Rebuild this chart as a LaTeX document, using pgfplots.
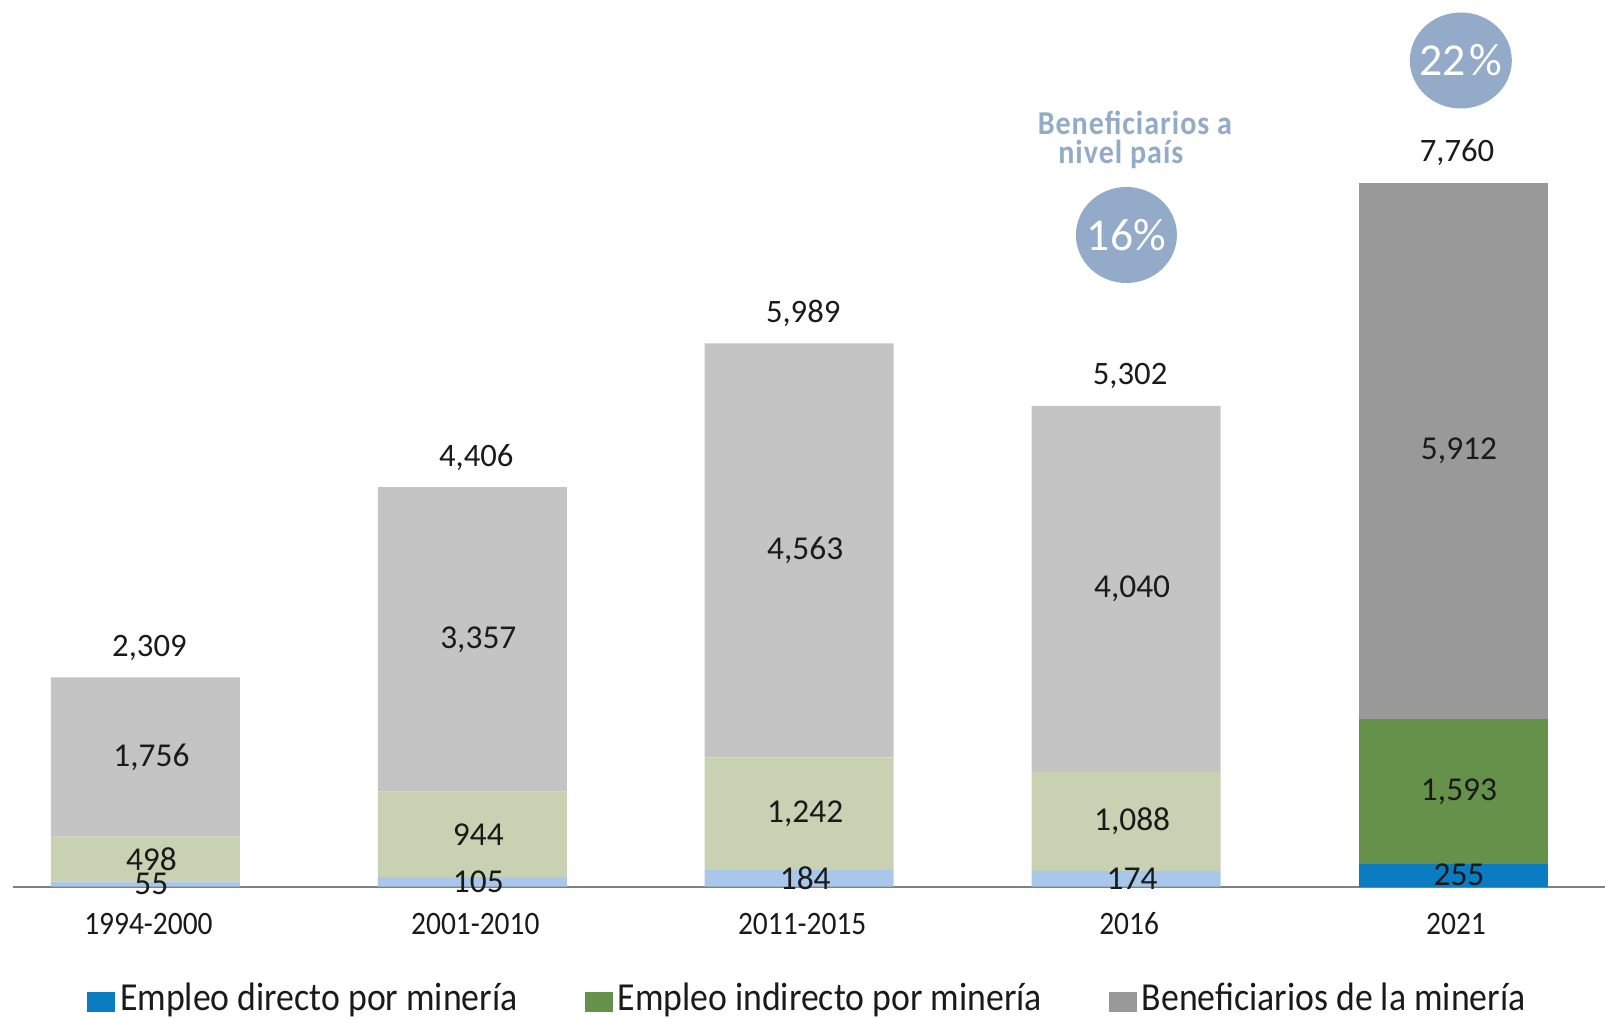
\documentclass[border=0pt]{standalone}
\usepackage{pgfplots}
\pgfplotsset{compat=1.18}
\usepackage{pgfplotstable}
\usetikzlibrary{shapes.geometric}
\usepackage{fontspec}
\setmainfont{Carlito}[FakeStretch=0.9]
\newfontfamily\numfont{Carlito}
\newfontfamily\benef{Carlito}[FakeStretch=0.9, LetterSpace=3]
\definecolor{lblue}{HTML}{A9C7EA}
\definecolor{lgreen}{HTML}{C8D2B2}
\definecolor{lgray}{HTML}{C4C4C4}
\definecolor{dblue}{HTML}{0B7CC2}
\definecolor{dgreen}{HTML}{66914A}
\definecolor{dgray}{HTML}{999999}
\definecolor{circ}{HTML}{93AAC8}
\definecolor{axgray}{HTML}{808080}
\definecolor{txt}{HTML}{1A1A1A}

\pgfkeys{/pgf/number format/.cd, 1000 sep={,}, assume math mode=true}

\pgfplotstableread{
x d i b
0 55 498 1756
1 105 944 3357
2 184 1242 4563
3 174 1088 4040
}\lightdata
\pgfplotstableread{
x d i b
4 255 1593 5912
}\darkdata

\pgfplotsset{
  every node near coord/.style={anchor=center, text=txt, xshift=0.6mm,
      font=\numfont\fontsize{9.5}{11}\selectfont},
  base/.style={
    at={(0.127cm,1.313cm)}, anchor=south west,
    scale only axis, width=15.923cm, height=8.867cm,
    xmin=-0.406, xmax=4.465, ymin=0, ymax=9776,
    ybar stacked, bar width=1.89cm, clip=false,
    nodes near coords={\pgfmathprintnumber{\rawy}},
    nodes near coords align={center},
  },
  seg/.style={draw=none, fill=#1},
}

\begin{document}
\begin{tikzpicture}
\useasboundingbox (0,0) rectangle (16.05,10.18);
\begin{axis}[base,
  axis x line*=bottom, axis y line=none,
  x axis line style={-, draw=axgray, line width=0.2mm},
  xtick={0,...,4}, xticklabels={1994-2000,2001-2010,2011-2015,2016,2021},
  major tick length=0pt, ytick=\empty,
  xticklabel style={anchor=base, yshift=-4.8mm, xshift=0.3mm, font=\fontsize{9.3}{11}\selectfont, text=txt},
]
\addplot[seg=lblue, visualization depends on={\thisrow{d} \as \rawy}] table[x=x,y=d]{\lightdata};
\addplot[seg=lgreen, visualization depends on={\thisrow{i} \as \rawy}] table[x=x,y=i]{\lightdata};
\addplot[seg=lgray, visualization depends on={\thisrow{b} \as \rawy}] table[x=x,y=b]{\lightdata};

\foreach \xx/\tt/\lab in {0/2309/{2,309},1/4406/{4,406},2/5989/{5,989},3/5302/{5,302},4/7760/{7,760}}{
  \edef\tmp{\noexpand\node[anchor=base, yshift=2.1mm, xshift=0.4mm, text=txt, font=\noexpand\numfont\noexpand\fontsize{9.3}{11}\noexpand\selectfont] at (axis cs:\xx,\tt) {\lab};}\tmp
}
\node[ellipse, fill=circ, minimum width=10.2mm, minimum height=9.6mm, inner sep=0pt,
  text=white, font=\numfont\fontsize{13}{15}\selectfont] at (axis cs:4.024,9109) {\makebox[0pt][c]{22\hspace{0.1em}\%}};
\node[ellipse, fill=circ, minimum width=10.1mm, minimum height=9.6mm, inner sep=0pt,
  text=white, font=\numfont\fontsize{13}{15}\selectfont] at (axis cs:3.001,7185) {\makebox[0pt][c]{16\%}};
\node[anchor=base, text=circ, font=\benef\bfseries\fontsize{9.5}{11}\selectfont] at (axis cs:3.027,8288) {Beneficiarios a};
\node[anchor=base, text=circ, font=\benef\bfseries\fontsize{9.5}{11}\selectfont] at (axis cs:2.984,7968) {nivel país};
\end{axis}
\begin{axis}[base, hide axis,
  legend columns=3,
  legend image code/.code={\fill[#1] (0mm,-1.3mm) rectangle (2.8mm,0.7mm);},
  legend style={draw=none, fill=none, at={(0.5,-0.1267)}, anchor=center,
    font=\fontsize{11.3}{13}\selectfont, text=txt, inner sep=0pt,
    nodes={inner xsep=0.5mm},
    /tikz/every even column/.append style={column sep=6.2mm}},
]
\addplot[seg=dblue, visualization depends on={\thisrow{d} \as \rawy}] table[x=x,y=d]{\darkdata};
\addlegendentry{Empleo directo por minería}
\addplot[seg=dgreen, visualization depends on={\thisrow{i} \as \rawy}] table[x=x,y=i]{\darkdata};
\addlegendentry{Empleo indirecto por minería}
\addplot[seg=dgray, visualization depends on={\thisrow{b} \as \rawy}] table[x=x,y=b]{\darkdata};
\addlegendentry{Beneficiarios de la minería}
\end{axis}
\end{tikzpicture}
\end{document}
